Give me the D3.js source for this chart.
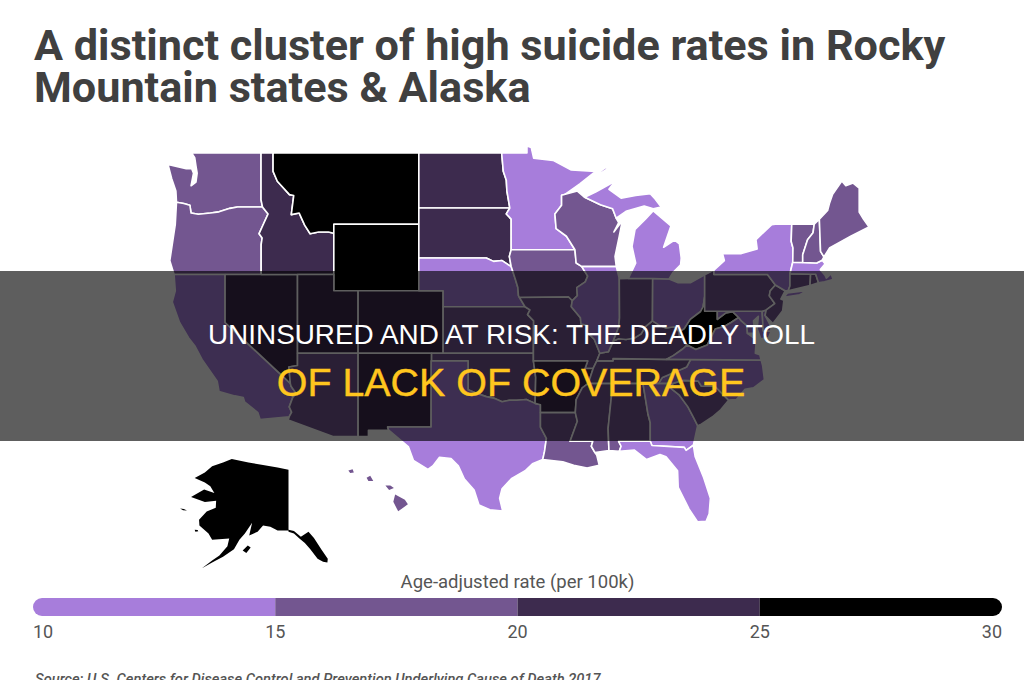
<!DOCTYPE html>
<html><head><meta charset="utf-8">
<script src="https://cdn.jsdelivr.net/npm/d3@7"></script>
<style>html,body{margin:0;padding:0;background:#fff;overflow:hidden}svg{display:block}</style>
</head><body><svg id="c" width="1024" height="680"></svg>
<script>
const titleLines=["A distinct cluster of high suicide rates in Rocky","Mountain states & Alaska"];
const overlayLines=["UNINSURED AND AT RISK: THE DEADLY TOLL","OF LACK OF COVERAGE"];
const legendTitle="Age-adjusted rate (per 100k)";
const sourceText="Source: U.S. Centers for Disease Control and Prevention Underlying Cause of Death 2017";
const legendBreaks=[10,15,20,25,30];
const legendColors=["#a77ddb","#735690","#3d2b4e","#000000"];
const stateRates={WA:16,OR:18,CA:11,NV:22,ID:23,MT:28,WY:26,UT:22,CO:21,AZ:18,NM:23,ND:21,SD:21,NE:13,KS:19,OK:19,TX:13,MN:14,IA:16,MO:19,AR:22,LA:16,WI:16,IL:11,MS:16,MI:14,IN:19,KY:19,TN:19,AL:16,GA:14,FL:14,OH:14,WV:26,VA:14,NC:14,SC:16,PA:19,NY:11,NJ:16,DE:14,MD:14,CT:16,RI:16,MA:11,VT:17,NH:18,ME:17,AK:27,HI:16};
const stateRings={
WA:[[[-124.7,48.38],[-124.4,47.6],[-124.05,46.9],[-124,46.27],[-123.4,46.2],[-122.9,46.1],[-122.8,45.65],[-122.2,45.58],[-121.2,45.65],[-120.5,45.72],[-119.6,45.92],[-118.98,46],[-116.92,46],[-117.04,46.4],[-117.04,49],[-122.75,49],[-122.5,48.75],[-122.4,48.3],[-122.3,47.9],[-122.4,47.4],[-122.8,47.2],[-122.6,47.9],[-122.75,48.15],[-123.2,48.15]]],
OR:[[[-124,46.27],[-124.1,45],[-124.55,42.84],[-124.2,42],[-120,42],[-117.03,42],[-117.03,43.8],[-116.95,44.2],[-117.2,44.45],[-116.85,45],[-116.46,45.6],[-116.92,46],[-118.98,46],[-119.6,45.92],[-120.5,45.72],[-121.2,45.65],[-122.2,45.58],[-122.8,45.65],[-122.9,46.1],[-123.4,46.2]]],
CA:[[[-124.2,42],[-120,42],[-120,39],[-114.63,35],[-114.57,34.8],[-114.14,34.3],[-114.43,34.05],[-114.72,33.4],[-114.52,33.03],[-114.72,32.72],[-117.12,32.53],[-117.3,33],[-118.4,33.75],[-118.5,34.03],[-119.2,34.15],[-120.5,34.45],[-120.65,35.15],[-121.9,36.6],[-122.5,37.5],[-123,38],[-123.75,39],[-124.35,40.3],[-124.1,41]]],
NV:[[[-120,42],[-114.04,42],[-114.04,36.2],[-114.75,36.1],[-114.63,35],[-120,39]]],
ID:[[[-117.04,49],[-116.05,49],[-116.05,48],[-115.7,47.45],[-114.7,46.7],[-114.35,46.65],[-114.55,45.56],[-113.9,45.65],[-113.45,44.95],[-113,44.45],[-112.3,44.55],[-111.5,44.55],[-111.05,44.48],[-111.05,42],[-114.04,42],[-117.03,42],[-117.03,43.8],[-116.95,44.2],[-117.2,44.45],[-116.85,45],[-116.46,45.6],[-116.92,46],[-117.04,46.4]]],
MT:[[[-116.05,49],[-104.05,49],[-104.05,45],[-111.05,45],[-111.05,44.48],[-111.5,44.55],[-112.3,44.55],[-113,44.45],[-113.45,44.95],[-113.9,45.65],[-114.55,45.56],[-114.35,46.65],[-114.7,46.7],[-115.7,47.45],[-116.05,48]]],
WY:[[[-111.05,45],[-104.05,45],[-104.05,41],[-111.05,41]]],
UT:[[[-114.04,42],[-111.05,42],[-111.05,41],[-109.05,41],[-109.05,37],[-114.04,37]]],
CO:[[[-109.05,41],[-102.05,41],[-102.05,37],[-109.05,37]]],
AZ:[[[-114.04,37],[-109.05,37],[-109.05,31.33],[-111.07,31.33],[-114.81,32.5],[-114.72,32.72],[-114.52,33.03],[-114.72,33.4],[-114.43,34.05],[-114.14,34.3],[-114.57,34.8],[-114.63,35],[-114.75,36.1],[-114.04,36.2]]],
NM:[[[-109.05,37],[-103,37],[-103.04,32],[-106.62,32],[-106.53,31.78],[-108.2,31.78],[-108.2,31.33],[-109.05,31.33]]],
ND:[[[-104.05,49],[-97.23,49],[-97.1,48],[-96.85,47.5],[-96.8,46.9],[-96.56,45.94],[-104.05,45.94]]],
SD:[[[-104.05,45.94],[-96.56,45.94],[-96.85,45.6],[-96.45,45.3],[-96.45,43.5],[-96.6,43.1],[-96.45,42.49],[-96.7,42.6],[-97.2,42.85],[-97.9,42.8],[-98.5,43],[-104.05,43]]],
NE:[[[-104.05,43],[-98.5,43],[-97.9,42.8],[-97.2,42.85],[-96.7,42.6],[-96.45,42.49],[-96.1,41.7],[-95.9,41.2],[-95.85,40.7],[-95.31,40],[-102.05,40],[-102.05,41],[-104.05,41]]],
KS:[[[-102.05,40],[-95.31,40],[-94.9,39.8],[-95.1,39.5],[-94.6,39.1],[-94.62,37],[-102.05,37]]],
OK:[[[-103,37],[-94.62,37],[-94.62,36.5],[-94.43,35.4],[-94.48,33.64],[-95.2,33.9],[-96,33.85],[-96.6,33.85],[-97.2,33.75],[-97.9,34],[-98.5,34.1],[-99.2,34.3],[-100,34.56],[-100,36.5],[-103,36.5]]],
TX:[[[-103.04,36.5],[-100,36.5],[-100,34.56],[-99.2,34.3],[-98.5,34.1],[-97.9,34],[-97.2,33.75],[-96.6,33.85],[-96,33.85],[-95.2,33.9],[-94.48,33.64],[-94.04,33.55],[-94.04,33],[-94.04,31.99],[-93.55,31.2],[-93.7,30.3],[-93.85,29.7],[-94.7,29.4],[-95.3,28.9],[-96.4,28.35],[-97.2,27.6],[-97.4,26.9],[-97.15,25.96],[-98.2,26.05],[-99.1,26.4],[-99.5,27.5],[-100.3,28.3],[-100.8,29.25],[-101.4,29.77],[-102.35,29.87],[-102.9,29.25],[-103.3,29],[-104.5,29.65],[-104.9,30.6],[-106.53,31.78],[-106.62,32],[-103.04,32]]],
MN:[[[-97.23,49],[-95.15,49],[-95.15,49.38],[-94.8,49.3],[-94.6,48.72],[-93,48.6],[-91.5,48.07],[-89.5,48],[-90.8,47.3],[-92.05,46.7],[-92.3,46.66],[-92.3,46.1],[-92.85,45.6],[-92.75,44.75],[-91.9,44.3],[-91.2,43.5],[-96.45,43.5],[-96.45,45.3],[-96.85,45.6],[-96.56,45.94],[-96.8,46.9],[-96.85,47.5],[-97.1,48]]],
IA:[[[-96.45,43.5],[-91.2,43.5],[-91.1,42.7],[-90.65,42.5],[-90.15,41.9],[-90.35,41.55],[-91.05,41.2],[-91,40.7],[-91.42,40.38],[-91.73,40.61],[-95.77,40.58],[-95.85,40.7],[-95.9,41.2],[-96.1,41.7],[-96.45,42.49],[-96.6,43.1]]],
MO:[[[-95.77,40.58],[-91.73,40.61],[-91.42,40.38],[-91.5,40],[-90.75,39.3],[-90.7,38.9],[-90.15,38.8],[-90.2,38.4],[-89.6,37.9],[-89.15,37],[-89.4,36.5],[-89.7,36],[-90.37,36],[-90.15,36.5],[-94.62,36.5],[-94.62,37],[-94.6,39.1],[-95.1,39.5],[-94.9,39.8],[-95.31,40]]],
AR:[[[-94.62,36.5],[-90.15,36.5],[-90.37,36],[-89.7,36],[-90.1,35],[-90.6,34.7],[-91.1,33.9],[-91.17,33],[-94.04,33],[-94.04,33.55],[-94.48,33.64],[-94.43,35.4]]],
LA:[[[-94.04,33],[-91.17,33],[-91,32.4],[-91.6,31],[-89.73,31],[-89.85,30.65],[-89.55,30.2],[-89.4,30],[-89.2,29.3],[-90.2,29.1],[-91.3,29.3],[-92.2,29.55],[-93.85,29.7],[-93.7,30.3],[-93.55,31.2],[-94.04,31.99]]],
MS:[[[-90.1,35],[-88.2,35],[-88.1,34.9],[-88.47,31.9],[-88.4,30.35],[-89.55,30.2],[-89.85,30.65],[-89.73,31],[-91.6,31],[-91,32.4],[-91.17,33],[-91.1,33.9],[-90.6,34.7]]],
AL:[[[-88.2,35],[-85.6,35],[-85.18,32.87],[-85,32.3],[-85,31],[-87.6,31],[-87.4,30.65],[-87.55,30.3],[-88.4,30.35],[-88.47,31.9],[-88.1,34.9]]],
GA:[[[-85.6,35],[-83.1,35],[-83.35,34.7],[-82.6,34.2],[-81.9,33.4],[-81.4,32.6],[-81.1,32.1],[-81.45,30.72],[-82.05,30.36],[-82.2,30.57],[-84.86,30.7],[-85,31],[-85,32.3],[-85.18,32.87]]],
FL:[[[-87.6,31],[-85,31],[-84.86,30.7],[-82.2,30.57],[-82.05,30.36],[-81.45,30.72],[-81.3,29.9],[-80.6,28.4],[-80.05,26.9],[-80.15,25.75],[-80.4,25.2],[-81.1,25.15],[-81.8,26.1],[-82.7,27.7],[-82.75,28.9],[-83.7,29.9],[-84.2,30.07],[-85.3,29.7],[-86.3,30.38],[-87.55,30.3],[-87.4,30.65]]],
SC:[[[-83.1,35],[-82.3,35.2],[-81.05,35.15],[-80.8,34.82],[-79.67,34.8],[-78.55,33.86],[-79.2,33.2],[-79.9,32.7],[-80.8,32.2],[-81.1,32.1],[-81.4,32.6],[-81.9,33.4],[-82.6,34.2],[-83.35,34.7]]],
NC:[[[-84.32,35],[-83.1,35],[-82.3,35.2],[-81.05,35.15],[-80.8,34.82],[-79.67,34.8],[-78.55,33.86],[-77.9,33.9],[-77.2,34.6],[-76.5,34.7],[-75.6,35.25],[-75.75,36.2],[-75.87,36.55],[-81.68,36.59],[-82,36.1],[-83,35.75],[-84,35.4]]],
TN:[[[-90.1,35],[-84.32,35],[-84,35.4],[-83,35.75],[-82,36.1],[-81.68,36.59],[-83.68,36.6],[-88.07,36.65],[-88.07,36.5],[-89.4,36.5],[-89.7,36]]],
KY:[[[-89.4,36.5],[-88.07,36.5],[-88.07,36.65],[-83.68,36.6],[-83.1,36.85],[-82.3,37.3],[-81.97,37.54],[-82.6,38.17],[-82.6,38.4],[-83,38.73],[-83.7,38.65],[-84.2,38.8],[-84.82,39.1],[-85.4,38.73],[-85.75,38.27],[-86.3,38],[-87,37.9],[-87.6,37.95],[-88.05,37.8],[-88.45,37.1],[-89.15,37]]],
IL:[[[-90.65,42.5],[-87.8,42.5],[-87.55,41.75],[-87.53,39.3],[-87.6,38.7],[-88.05,37.8],[-88.45,37.1],[-89.15,37],[-89.6,37.9],[-90.2,38.4],[-90.15,38.8],[-90.7,38.9],[-90.75,39.3],[-91.5,40],[-91.42,40.38],[-91,40.7],[-91.05,41.2],[-90.35,41.55],[-90.15,41.9]]],
IN:[[[-87.55,41.75],[-86.8,41.76],[-84.8,41.76],[-84.82,39.1],[-85.4,38.73],[-85.75,38.27],[-86.3,38],[-87,37.9],[-87.6,37.95],[-88.05,37.8],[-87.6,38.7],[-87.53,39.3]]],
OH:[[[-84.8,41.76],[-83.45,41.73],[-82.7,41.5],[-81.7,41.5],[-80.52,41.98],[-80.52,40.64],[-80.65,40],[-80.85,39.7],[-81.7,39.2],[-82.2,38.6],[-82.6,38.4],[-83,38.73],[-83.7,38.65],[-84.2,38.8],[-84.82,39.1]]],
WV:[[[-80.52,40.64],[-80.52,39.72],[-79.48,39.72],[-79.48,39.2],[-78.8,39.6],[-78.2,39.68],[-77.72,39.32],[-78.35,39],[-78.87,38.76],[-79.65,38.58],[-80.3,37.55],[-81.25,37.25],[-81.97,37.54],[-82.6,38.17],[-82.6,38.4],[-82.2,38.6],[-81.7,39.2],[-80.85,39.7],[-80.65,40]]],
VA:[[[-83.68,36.6],[-81.68,36.59],[-75.87,36.55],[-75.98,36.9],[-76.35,37],[-76.3,37.6],[-76.3,37.9],[-77,38.3],[-77.05,38.8],[-77.5,39.1],[-77.72,39.32],[-78.35,39],[-78.87,38.76],[-79.65,38.58],[-80.3,37.55],[-81.25,37.25],[-81.97,37.54],[-82.3,37.3],[-83.1,36.85]]],
MD:[[[-79.48,39.72],[-75.79,39.72],[-75.7,38.46],[-75.05,38.45],[-75.25,38.03],[-75.9,37.95],[-76.2,38.6],[-76.1,39.4],[-76.5,39.1],[-76.4,38.3],[-77,38.3],[-77.05,38.8],[-77.5,39.1],[-77.72,39.32],[-78.2,39.68],[-78.8,39.6],[-79.48,39.2]]],
DE:[[[-75.79,39.72],[-75.45,39.8],[-75.55,39.45],[-75.1,38.8],[-75.05,38.45],[-75.7,38.46]]],
PA:[[[-80.52,41.98],[-79.76,42.27],[-79.76,42],[-75.35,42],[-74.7,41.36],[-75.13,40.98],[-75.2,40.68],[-74.75,40.2],[-75.45,39.8],[-75.79,39.72],[-80.52,39.72]]],
NJ:[[[-74.7,41.36],[-73.9,41],[-74.25,40.48],[-74,40.4],[-74.1,39.75],[-74.9,38.93],[-75.55,39.45],[-75.45,39.8],[-74.75,40.2],[-75.2,40.68],[-75.13,40.98]]],
NY:[[[-79.76,42.27],[-78.9,42.85],[-79.05,43.27],[-77.5,43.27],[-76.2,43.55],[-76.3,44.1],[-75,44.98],[-74.7,45],[-73.35,45.01],[-73.4,44],[-73.25,43.6],[-73.27,42.75],[-73.5,42.05],[-73.5,41.3],[-73.65,41],[-73.9,41],[-74.7,41.36],[-75.35,42],[-79.76,42]],[[-74,40.6],[-73.7,40.87],[-72.7,40.95],[-72,41.05],[-72.7,40.75]]],
CT:[[[-73.5,42.05],[-71.8,42.02],[-71.85,41.32],[-73.65,41],[-73.5,41.3]]],
RI:[[[-71.8,42.02],[-71.38,42.02],[-71.15,41.5],[-71.85,41.32]]],
MA:[[[-73.5,42.05],[-73.27,42.75],[-72.45,42.73],[-71.3,42.7],[-70.85,42.87],[-70.6,42.65],[-71,42.3],[-70.6,41.95],[-70.5,41.78],[-70.1,42.05],[-69.95,41.7],[-70.65,41.55],[-71.15,41.5],[-71.38,42.02],[-71.8,42.02]]],
VT:[[[-73.35,45.01],[-71.5,45.01],[-71.6,44.5],[-72.05,44.1],[-72.45,43.2],[-72.45,42.73],[-73.27,42.75],[-73.25,43.6],[-73.4,44]]],
NH:[[[-71.5,45.01],[-71.08,45.3],[-70.98,43.4],[-70.7,43.07],[-70.85,42.87],[-71.3,42.7],[-72.45,42.73],[-72.45,43.2],[-72.05,44.1],[-71.6,44.5]]],
ME:[[[-71.08,45.3],[-70.4,45.8],[-70.25,46.2],[-70,46.7],[-69.23,47.46],[-68.9,47.2],[-68.3,47.35],[-67.8,47.07],[-67.8,45.7],[-67.45,45.3],[-67,44.85],[-68.5,44.3],[-69.5,43.9],[-70.25,43.6],[-70.7,43.07],[-70.98,43.4]]],
WI:[[[-92.3,46.66],[-91,46.9],[-90.4,46.55],[-89.1,46.13],[-88.1,45.9],[-87.8,45.35],[-87.6,45.1],[-88,44.55],[-87.3,45.2],[-87.55,44.3],[-87.9,43.1],[-87.8,42.5],[-90.65,42.5],[-91.1,42.7],[-91.2,43.5],[-91.9,44.3],[-92.75,44.75],[-92.85,45.6],[-92.3,46.1]]],
MI:[[[-86.8,41.76],[-84.8,41.76],[-83.45,41.73],[-83.15,42.1],[-82.5,42.6],[-82.45,43],[-82.6,43.85],[-83,44.07],[-83.9,43.65],[-83.3,44.9],[-84.75,45.78],[-85.4,45.3],[-86.25,44.7],[-86.5,43.7],[-86.2,42.7]],[[-90.4,46.55],[-89.1,46.13],[-88.1,45.9],[-87.8,45.35],[-87,45.75],[-85.5,46.05],[-84.75,45.9],[-84.1,46],[-84.6,46.45],[-85,46.75],[-86.2,46.65],[-87.4,46.5],[-88.4,47],[-87.9,47.45],[-89.5,46.85]],[[-89.2,47.85],[-88.5,48.15],[-88.7,48.2],[-89.2,47.95]]]
};
const alaskaRings=[
[[-141,69.65],[-144,70],[-148,70.4],[-152,70.8],[-156.6,71.35],[-159,70.8],[-162,70.2],[-164,69.2],[-166.8,68.35],[-164,67.6],[-162.5,67],[-161.4,65.95],[-164.2,66.5],[-167.8,65.3],[-164,64.5],[-160.9,64.7],[-161,63.6],[-163.5,63],[-165.6,61.7],[-165.5,60.8],[-163,59.5],[-162,58.5],[-157.3,58.7],[-157.8,57.5],[-160,56],[-162,55.2],[-164.8,54],[-162,54.9],[-159,55.8],[-156,57],[-154.5,58.5],[-153,59.5],[-151,61.2],[-151.5,60],[-151.8,59.2],[-149.5,59.8],[-148,60.8],[-146,60.6],[-144,60],[-141,60]],
[[-141,60.1],[-139.5,59.9],[-137.6,59],[-135.5,59.8],[-134,58.8],[-132,57],[-130.2,55.5],[-130.3,54.9],[-131.5,55],[-133,55.5],[-135,57],[-136.5,58],[-138,58.7],[-139.5,59.5],[-141,59.8]],
[[-153.6,56.8],[-152.2,57.6],[-151.4,57.3],[-152.6,56.4]],[[-170.8,63.5],[-169.8,63.4],[-168.9,63.15],[-170,63.2]],[[-166.8,60.1],[-166,60.05],[-165.8,59.85],[-166.6,59.8]]];
const hawaiiRings=[[[-155.9,20.25],[-155.1,19.85],[-154.85,19.5],[-155.65,18.95],[-156.05,19.7]],[[-156.7,20.95],[-156.3,20.95],[-156,20.75],[-156.4,20.6]],[[-158.25,21.55],[-157.95,21.7],[-157.7,21.3],[-158.1,21.3]],[[-159.75,22.1],[-159.4,22.2],[-159.3,21.95],[-159.6,21.9]]];

const closeRings=rings=>({type:"MultiPolygon",coordinates:rings.map(r=>[r.concat([r[0]])])});
const svg=d3.select("#c");
const color=d3.scaleThreshold().domain(legendBreaks.slice(1,-1)).range(legendColors);
const merc=d3.geoMercator().scale(696).center([-124.7,49]).translate([168,153]);
const planar=f=>d3.geoPath(d3.geoTransform({point(x,y){const p=f(x,y);this.stream.point(p[0],p[1]);}}));
const mainPath=planar((x,y)=>merc([x,y]));
const akX=d3.scaleLinear().domain([-141,-130]).range([288.5,328.5]);
const akY=d3.scaleLinear().domain([71.35,54.9]).range([459,562.5]);
const akPath=planar((x,y)=>[akX(x),akY(y)]);
const hiMerc=d3.geoMercator().scale(696).center([-155.5,19.6]).translate([400,503]);
const hiPath=planar((x,y)=>hiMerc([x,y]));
const g=svg.append("g");
const feats=Object.keys(stateRings).map(k=>({type:"Feature",id:k,geometry:closeRings(stateRings[k])}));
g.selectAll("path.s").data(feats).join("path").attr("class","s")
 .attr("d",mainPath).attr("fill",d=>color(stateRates[d.id])).attr("stroke","#fff").attr("stroke-width",1.6).attr("stroke-linejoin","round");
g.append("path").datum(closeRings(alaskaRings)).attr("d",akPath).attr("fill",color(stateRates.AK));
g.append("path").datum(closeRings(hawaiiRings)).attr("d",hiPath).attr("fill",color(stateRates.HI));

const T=svg.append("g").attr("font-family","Roboto").attr("font-weight",700).attr("font-size",43.2).attr("fill","#404040");
T.selectAll("text").data(titleLines).join("text").attr("x",34).attr("y",(d,i)=>60+i*42).text(d=>d);

const lx=d3.scaleLinear().domain([10,30]).range([33,1002]);
const defs=svg.append("defs");
defs.append("clipPath").attr("id","lc").append("rect").attr("x",lx(10)).attr("y",598).attr("width",lx(30)-lx(10)).attr("height",18).attr("rx",9);
svg.append("g").attr("clip-path","url(#lc)").selectAll("rect").data(legendColors).join("rect")
 .attr("x",(d,i)=>lx(legendBreaks[i])).attr("y",598).attr("width",(d,i)=>lx(legendBreaks[i+1])-lx(legendBreaks[i])).attr("height",18).attr("fill",d=>d);
const L=svg.append("g").attr("font-family","Roboto").attr("fill","#555");
L.append("text").attr("x",lx(20)).attr("y",588).attr("text-anchor","middle").attr("font-size",18.5).text(legendTitle);
L.selectAll("text.t").data(legendBreaks).join("text").attr("class","t").attr("x",d=>lx(d)).attr("y",638).attr("font-size",18)
 .attr("text-anchor",(d,i)=>i==0?"start":i==legendBreaks.length-1?"end":"middle").text(d=>d);
svg.append("text").attr("x",35).attr("y",684).attr("font-family","Roboto").attr("font-style","italic").attr("font-weight",500).attr("font-size",14.7).attr("fill","#555").text(sourceText);

const band=d3.scaleLinear().domain([0,1]).range([271,441]);
svg.append("rect").attr("x",0).attr("width",1024).attr("y",band(0)).attr("height",band(1)-band(0)).attr("fill","#000").attr("opacity",0.63);
svg.append("text").attr("x",511.5).attr("y",344).attr("text-anchor","middle").attr("font-family","Liberation Sans").attr("font-size",27.9).attr("fill","#fff").text(overlayLines[0]);
svg.append("text").attr("x",511).attr("y",396).attr("text-anchor","middle").attr("font-family","Liberation Sans").attr("font-size",39.4).attr("fill","#ffc61e").attr("stroke","#ffc61e").attr("stroke-width",0.4).text(overlayLines[1]);
</script></body></html>
